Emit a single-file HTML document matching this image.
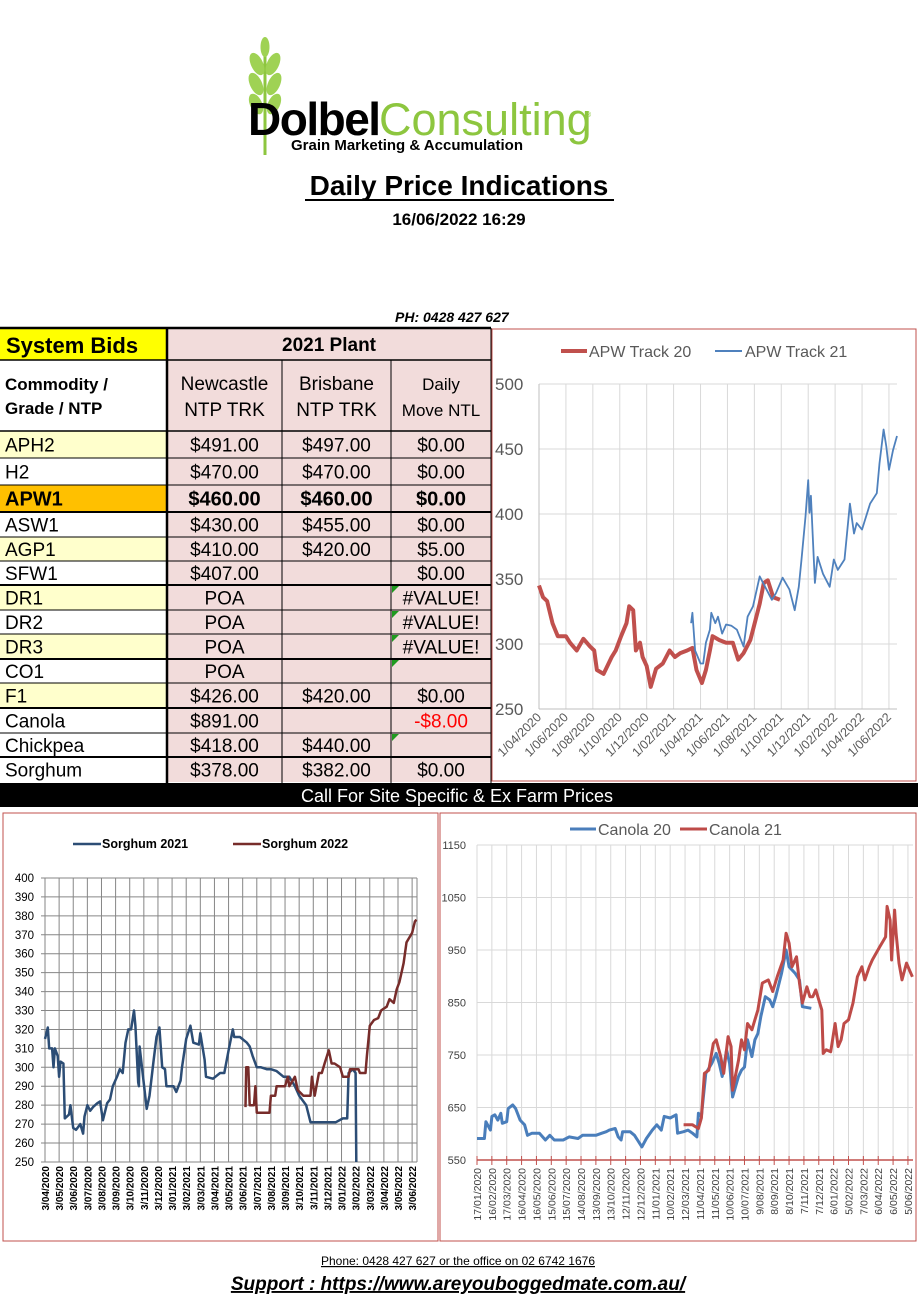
<!DOCTYPE html>
<html><head><meta charset="utf-8"><style>
html,body{margin:0;padding:0;background:#fff;width:918px;height:1299px;overflow:hidden}
svg{display:block;font-family:"Liberation Sans",Arial,sans-serif}
</style></head><body>
<svg id="pg" width="918" height="1299" viewBox="0 0 918 1299" xmlns="http://www.w3.org/2000/svg">
<!-- Logo -->
<g>
 <path d="M265 38 L265 155" stroke="#8dc63f" stroke-width="3" fill="none"/>
 <g fill="#9fd254">
  <ellipse cx="265" cy="47" rx="4.5" ry="10"/>
  <ellipse cx="257" cy="64" rx="6" ry="12" transform="rotate(-25 257 64)"/>
  <ellipse cx="273" cy="64" rx="6" ry="12" transform="rotate(25 273 64)"/>
  <ellipse cx="256" cy="84" rx="6" ry="12" transform="rotate(-25 256 84)"/>
  <ellipse cx="274" cy="84" rx="6" ry="12" transform="rotate(25 274 84)"/>
  <ellipse cx="256" cy="104" rx="6" ry="11" transform="rotate(-25 256 104)"/>
  <ellipse cx="274" cy="104" rx="6" ry="11" transform="rotate(25 274 104)"/>
 </g>
 <text x="248" y="135" font-size="46" font-weight="bold" fill="#000" letter-spacing="-1.5">Dolbel</text>
 <text x="379" y="135" font-size="45" fill="#8dc63f" letter-spacing="0">Consulting</text>
 <text x="586" y="117" font-size="7" fill="#8dc63f">®</text>
 <text x="291" y="150" font-size="15" font-weight="bold" fill="#000">Grain Marketing &amp; Accumulation</text>
</g>
<text x="459" y="195" font-size="28" font-weight="bold" text-anchor="middle">Daily Price Indications</text>
<line x1="305" y1="200" x2="614" y2="200" stroke="#000" stroke-width="2"/>
<text x="459" y="225" font-size="17" font-weight="bold" text-anchor="middle">16/06/2022 16:29</text>
<text x="395" y="322" font-size="14" font-weight="bold" font-style="italic">PH: 0428 427 627</text>
<g id="table"></g>
<rect x="0" y="783" width="918" height="24" fill="#000"/>
<text x="457" y="802" font-size="18" fill="#fff" text-anchor="middle">Call For Site Specific &amp; Ex Farm Prices</text>
<g id="apw"></g>
<g id="sor"></g>
<g id="can"></g>
<text x="458" y="1265" font-size="12" text-anchor="middle" text-decoration="underline">Phone: 0428 427 627 or the office on 02 6742 1676</text>
<text x="458" y="1290" font-size="19" font-weight="bold" font-style="italic" text-anchor="middle" text-decoration="underline">Support : https://www.areyouboggedmate.com.au/</text>
</svg>
<script>
// ---------- Table data ----------
const rowNames=["APH2","H2","APW1","ASW1","AGP1","SFW1","DR1","DR2","DR3","CO1","F1","Canola","Chickpea","Sorghum"];
const newcastle=["$491.00","$470.00","$460.00","$430.00","$410.00","$407.00","POA","POA","POA","POA","$426.00","$891.00","$418.00","$378.00"];
const brisbane=["$497.00","$470.00","$460.00","$455.00","$420.00","","","","","","$420.00","","$440.00","$382.00"];
const dailyMove=["$0.00","$0.00","$0.00","$0.00","$5.00","$0.00","#VALUE!","#VALUE!","#VALUE!","","$0.00","-$8.00","","$0.00"];

// ---------- APW chart data (x = months since Apr 2020) ----------
const apwTicks=["1/04/2020","1/06/2020","1/08/2020","1/10/2020","1/12/2020","1/02/2021","1/04/2021","1/06/2021","1/08/2021","1/10/2021","1/12/2021","1/02/2022","1/04/2022","1/06/2022"];
const apwYTicks=[250,300,350,400,450,500];
const apw20X=[0,0.3,0.6,1,1.4,2,2.3,2.8,3.3,3.8,4.1,4.3,4.8,5.4,5.7,6.1,6.5,6.7,7,7.2,7.5,7.7,8,8.3,8.7,9.2,9.7,10.1,10.5,11,11.4,11.7,12.1,12.4,12.7,12.9,13.4,13.9,14.4,14.8,15.2,15.7,15.9,16.4,16.7,17,17.4,17.9];
const apw20Y=[345,336,333,316,306,306,301,295,304,298,295,280,277,290,295,306,316,329,326,295,301,290,283,267,281,285,295,290,293,295,297,280,270,280,295,306,303,301,301,288,293,303,311,331,347,349,336,334];
const apw21X=[11.3,11.4,11.6,12,12.2,12.4,12.7,12.8,13.1,13.3,13.6,13.9,14.3,14.7,15.2,15.5,15.9,16.4,16.8,17.3,17.6,18.1,18.6,19,19.3,19.5,19.8,20,20.1,20.2,20.5,20.7,21.1,21.6,21.9,22.2,22.7,23.1,23.4,23.6,24,24.6,25.1,25.3,25.6,25.8,26,26.3,26.6];
const apw21Y=[316,324,295,285,285,301,311,324,316,321,308,315,314,311,298,321,329,352,344,334,339,351,342,326,344,365,398,426,401,414,347,367,354,344,365,357,365,408,385,393,388,408,416,439,465,452,434,449,460];

// ---------- Sorghum chart data (x = months since 3/04/2020) ----------
const sorTicks=["3/04/2020","3/05/2020","3/06/2020","3/07/2020","3/08/2020","3/09/2020","3/10/2020","3/11/2020","3/12/2020","3/01/2021","3/02/2021","3/03/2021","3/04/2021","3/05/2021","3/06/2021","3/07/2021","3/08/2021","3/09/2021","3/10/2021","3/11/2021","3/12/2021","3/01/2022","3/02/2022","3/03/2022","3/04/2022","3/05/2022","3/06/2022"];
const sorYTicks=[250,260,270,280,290,300,310,320,330,340,350,360,370,380,390,400];
const sor21X=[0,0.2,0.3,0.5,0.6,0.7,0.9,1,1.1,1.3,1.4,1.7,1.8,2,2.2,2.5,2.7,2.8,3,3.2,3.4,3.7,3.9,4.1,4.4,4.6,4.8,5.1,5.3,5.5,5.7,5.9,6.1,6.3,6.4,6.6,6.65,6.7,7.2,7.4,7.7,7.9,8.1,8.3,8.5,8.6,9.1,9.3,9.6,9.7,10,10.3,10.5,10.9,11,11.3,11.4,11.9,12.4,12.7,13,13.3,13.4,13.8,14.3,14.5,14.7,15,15.3,15.7,16,16.4,16.9,17.3,17.7,18,18.5,18.8,19.5,20.6,21.1,21.4,21.5,21.8,22,22.05];
const sor21Y=[315,321,310,310,300,310,306,295,303,302,273,275,280,268,267,270,265,274,280,277,279,281,282,272,281,283,290,295,299,297,313,320,320,330,322,292,290,311,278,285,304,316,321,300,299,290,290,287,293,300,315,322,313,312,318,304,295,294,297,297,309,320,316,316,313,311,306,300,300,299,299,298,295,295,290,285,280,271,271,271,273,273,297,299,297,250];
const sor22X=[14.2,14.25,14.4,14.5,14.8,14.9,15,15.9,16,16.3,16.4,17,17.2,17.3,17.7,17.9,18.3,18.8,18.9,19.1,19.4,19.6,19.8,20.1,20.3,20.5,20.9,21.1,21.5,21.6,22.2,22.3,22.7,22.8,23,23.3,23.6,23.8,24.2,24.4,24.7,24.9,25.1,25.4,25.6,26,26.2,26.3];
const sor22Y=[279,300,300,280,280,290,276,276,285,285,290,290,295,290,295,288,285,285,295,285,297,297,302,309,302,302,300,295,295,299,299,297,297,306,322,325,326,330,332,336,334,341,345,355,366,371,377,378];

// ---------- Canola chart data (x = tick index, ~30 days each) ----------
const canTicks=["17/01/2020","16/02/2020","17/03/2020","16/04/2020","16/05/2020","15/06/2020","15/07/2020","14/08/2020","13/09/2020","13/10/2020","12/11/2020","12/12/2020","11/01/2021","10/02/2021","12/03/2021","11/04/2021","11/05/2021","10/06/2021","10/07/2021","9/08/2021","8/09/2021","8/10/2021","7/11/2021","7/12/2021","6/01/2022","5/02/2022","7/03/2022","6/04/2022","6/05/2022","5/06/2022"];
const canYTicks=[550,650,750,850,950,1050,1150];
const can20X=[0,0.5,0.6,0.9,1,1.2,1.4,1.6,1.7,2,2.1,2.4,2.6,2.9,3.2,3.4,3.7,4.2,4.6,4.9,5.2,5.8,6.2,6.8,7.1,8,8.4,8.7,8.9,9.3,9.5,9.7,9.8,10.3,10.6,10.8,11.1,11.4,11.8,12.1,12.4,12.6,13,13.4,13.5,13.9,14.2,14.5,14.8,14.9,15.1,15.4,15.8,16.1,16.3,16.5,16.8,17,17.2,17.6,17.8,18,18.2,18.5,18.7,18.9,19.1,19.4,19.7,19.9,20.1,20.5,20.8,21,21.4,21.7,21.9,22.5];
const can20Y=[591,591,623,607,633,636,626,639,620,623,648,655,648,626,617,597,601,601,588,597,588,588,594,591,597,597,601,604,607,610,594,588,604,604,597,588,575,591,607,617,607,633,630,636,601,604,607,601,594,639,633,715,734,753,734,709,760,734,670,709,721,727,779,747,779,791,823,861,855,842,861,906,950,918,906,893,842,839];
const can21X=[13.9,14.5,14.9,15.1,15.3,15.6,15.9,16.1,16.4,16.6,16.9,17.1,17.2,17.6,17.8,18,18.2,18.5,18.7,18.9,19.2,19.6,19.9,20.2,20.6,20.8,21,21.2,21.5,21.7,21.9,22.2,22.4,22.6,22.8,23.2,23.3,23.5,23.8,24.1,24.3,24.5,24.7,25,25.3,25.6,25.9,26.1,26.4,26.6,27.1,27.5,27.6,27.8,27.9,28.1,28.2,28.4,28.6,28.9,29.1,29.3];
const can21Y=[617,617,610,630,715,721,772,779,747,715,785,766,683,740,779,760,810,798,817,836,887,893,871,899,931,982,963,918,937,887,849,880,861,861,874,836,753,760,756,810,766,779,810,817,849,899,918,893,918,931,956,975,1033,1007,931,1026,982,925,893,925,912,899];

const NS="http://www.w3.org/2000/svg";
function mk(parent,tag,attrs,txt){const e=document.createElementNS(NS,tag);for(const k in attrs)e.setAttribute(k,attrs[k]);if(txt!==undefined)e.textContent=txt;parent.appendChild(e);return e;}

// ---------- Table ----------
(function(){
 const g=document.getElementById('table');
 const cx=[0,167,282,391,491];
 const tops=[431,458,485,512,537,561,585,610,634,659,683,708,733,757,782];
 const nameBg={"APH2":"#ffffcc","AGP1":"#ffffcc","DR1":"#ffffcc","DR3":"#ffffcc","F1":"#ffffcc","APW1":"#ffc000"};
 mk(g,'rect',{x:0,y:328,width:167,height:32,fill:'#ffff00'});
 mk(g,'rect',{x:167,y:328,width:324,height:454,fill:'#f2dcdb'});
 let t=mk(g,'text',{x:6,y:353,'font-size':22,'font-weight':'bold'},'System Bids');
 
 
 t=mk(g,'text',{x:329,y:351,'font-size':19,'font-weight':'bold','text-anchor':'middle'},'2021 Plant');
 
 
 mk(g,'text',{x:5,y:390,'font-size':17,'font-weight':'bold'},'Commodity /');
 mk(g,'text',{x:5,y:414,'font-size':17,'font-weight':'bold'},'Grade / NTP');
 const hd=[["Newcastle","NTP TRK"],["Brisbane","NTP TRK"],["Daily","Move NTL"]];
 hd.forEach((h,i)=>{const m=(cx[i+1]+cx[i+2])/2;const fs=i==2?17:19;
  const a=mk(g,'text',{x:m,y:390,'font-size':fs,'text-anchor':'middle'},h[0]);
  
  
  mk(g,'text',{x:m,y:416,'font-size':fs,'text-anchor':'middle'},h[1]);});
 function tri(v,n){return v.startsWith('#')||n==="CO1"||n==="Chickpea";}
 rowNames.forEach((n,i)=>{
  const y0=tops[i],y1=tops[i+1],mid=(y0+y1)/2+7;
  const bold=n==="APW1";
  const bg=nameBg[n]||'#fff';
  mk(g,'rect',{x:0,y:y0,width:167,height:y1-y0,fill:bg});
  const c=mk(g,'text',{x:5,y:mid,'font-size':bold?20:19,'font-weight':bold?'bold':'normal'},n);
  
  
  [newcastle[i],brisbane[i],dailyMove[i]].forEach((v,j)=>{
   if(v==="")return;
   const e=mk(g,'text',{x:(cx[j+1]+cx[j+2])/2,y:mid,'font-size':bold?20:19,'font-weight':bold?'bold':'normal','text-anchor':'middle',fill:v.startsWith('-')?'#ff0000':'#000'},v);
   
   
  });
  if(tri(dailyMove[i],n)) mk(g,'path',{d:`M392 ${y0+1} l7 0 l-7 7z`,fill:'#1f9a1f'});
 });
 mk(g,'line',{x1:0,y1:328,x2:491,y2:328,stroke:'#000','stroke-width':2.5});
 mk(g,'line',{x1:0,y1:360,x2:491,y2:360,stroke:'#000','stroke-width':1.5});
 mk(g,'line',{x1:0,y1:431,x2:491,y2:431,stroke:'#000','stroke-width':1.5});
 const thick=[512,585,659,708,757];
 tops.slice(1,-1).forEach(y=>mk(g,'line',{x1:0,y1:y,x2:491,y2:y,stroke:'#000','stroke-width':thick.includes(y)?2:1}));
 mk(g,'line',{x1:167,y1:328,x2:167,y2:783,stroke:'#000','stroke-width':2.5});
 [282,391].forEach(x=>mk(g,'line',{x1:x,y1:360,x2:x,y2:783,stroke:'#000','stroke-width':1}));
 mk(g,'line',{x1:491,y1:328,x2:491,y2:783,stroke:'#000','stroke-width':1});
})();

function path(xs,ys,fx,fy){return xs.map((x,i)=>(i?'L':'M')+fx(x).toFixed(1)+' '+fy(ys[i]).toFixed(1)).join(' ');}

// ---------- APW chart ----------
(function(){
 const g=document.getElementById('apw');
 const xA=m=>539+m*13.46, yA=v=>384+(500-v)*1.3;
 mk(g,'rect',{x:492,y:329,width:424,height:452,fill:'#fff',stroke:'#c0504d','stroke-width':1});
 apwYTicks.forEach(v=>{mk(g,'line',{x1:539,x2:897,y1:yA(v),y2:yA(v),stroke:'#d9d9d9'});
  const t=mk(g,'text',{x:495,y:yA(v)+6,'font-size':17,fill:'#595959'},v);
  
  });
 apwTicks.forEach((s,i)=>{const x=xA(i*2);
  mk(g,'line',{x1:x,x2:x,y1:384,y2:709,stroke:'#d9d9d9'});
  const t=mk(g,'text',{x:x+3,y:718,'font-size':12.5,fill:'#595959','text-anchor':'end',transform:`rotate(-45 ${x+3} 718)`},s);
  
  });
 mk(g,'line',{x1:539,x2:539,y1:384,y2:709,stroke:'#bfbfbf'});
 mk(g,'line',{x1:539,x2:897,y1:709,y2:709,stroke:'#bfbfbf'});
 let p=mk(g,'path',{d:path(apw20X,apw20Y,xA,yA),fill:'none',stroke:'#c0504d','stroke-width':4,'stroke-linejoin':'round'});
 
 
 p=mk(g,'path',{d:path(apw21X,apw21Y,xA,yA),fill:'none',stroke:'#4f81bd','stroke-width':1.8,'stroke-linejoin':'round'});
 
 
 mk(g,'line',{x1:561,x2:587,y1:351,y2:351,stroke:'#c0504d','stroke-width':4});
 let l=mk(g,'text',{x:589,y:357,'font-size':16,fill:'#595959'},'APW Track 20');
 
 
 mk(g,'line',{x1:715,x2:742,y1:351,y2:351,stroke:'#4f81bd','stroke-width':2});
 l=mk(g,'text',{x:745,y:357,'font-size':16,fill:'#595959'},'APW Track 21');
 
 
})();

// ---------- Sorghum chart ----------
(function(){
 const g=document.getElementById('sor');
 const xS=m=>45+m*14.12, yS=v=>878+(400-v)*1.893;
 mk(g,'rect',{x:3,y:813,width:435,height:428,fill:'#fff',stroke:'#c0504d','stroke-width':1});
 sorYTicks.forEach(v=>{mk(g,'line',{x1:41,x2:417,y1:yS(v),y2:yS(v),stroke:'#868686'});
  const t=mk(g,'text',{x:34,y:yS(v)+4,'font-size':11.5,'text-anchor':'end'},v);
  
  });
 sorTicks.forEach((s,i)=>{const x=xS(i);
  mk(g,'line',{x1:x,x2:x,y1:878,y2:1162,stroke:'#868686'});
  const t=mk(g,'text',{x:x+4,y:1166,'font-size':10,'font-weight':'bold','text-anchor':'end',transform:`rotate(-90 ${x+4} 1166)`},s);
  
  });
 mk(g,'line',{x1:417,x2:417,y1:878,y2:1162,stroke:'#868686'});
 let p=mk(g,'path',{d:path(sor21X,sor21Y,xS,yS),fill:'none',stroke:'#2c4d75','stroke-width':2.5,'stroke-linejoin':'round'});
 
 
 p=mk(g,'path',{d:path(sor22X,sor22Y,xS,yS),fill:'none',stroke:'#772c2a','stroke-width':2.5,'stroke-linejoin':'round'});
 
 
 mk(g,'line',{x1:73,x2:101,y1:844,y2:844,stroke:'#2c4d75','stroke-width':2.5});
 let l=mk(g,'text',{x:102,y:848,'font-size':12.5,'font-weight':'bold'},'Sorghum 2021');
 
 
 mk(g,'line',{x1:233,x2:261,y1:844,y2:844,stroke:'#772c2a','stroke-width':2.5});
 l=mk(g,'text',{x:262,y:848,'font-size':12.5,'font-weight':'bold'},'Sorghum 2022');
 
 
})();

// ---------- Canola chart ----------
(function(){
 const g=document.getElementById('can');
 const xC=i=>477+i*14.86, yC=v=>845+(1150-v)*0.525;
 mk(g,'rect',{x:440,y:813,width:476,height:428,fill:'#fff',stroke:'#c0504d','stroke-width':1});
 canYTicks.forEach(v=>{mk(g,'line',{x1:477,x2:913,y1:yC(v),y2:yC(v),stroke:'#d9d9d9'});
  const t=mk(g,'text',{x:466,y:yC(v)+4,'font-size':11,fill:'#404040','text-anchor':'end'},v);
  
  });
 canTicks.forEach((s,i)=>{const x=xC(i);
  mk(g,'line',{x1:x,x2:x,y1:845,y2:1160,stroke:'#d9d9d9'});
  mk(g,'line',{x1:x,x2:x,y1:1156,y2:1165,stroke:'#c0504d'});
  const t=mk(g,'text',{x:x+4,y:1168,'font-size':10.5,fill:'#404040','text-anchor':'end',transform:`rotate(-90 ${x+4} 1168)`},s);
  
  });
 mk(g,'line',{x1:477,x2:913,y1:1160,y2:1160,stroke:'#c0504d','stroke-width':1.5});
 let p=mk(g,'path',{d:path(can20X,can20Y,xC,yC),fill:'none',stroke:'#4a7ebb','stroke-width':3,'stroke-linejoin':'round'});
 
 
 p=mk(g,'path',{d:path(can21X,can21Y,xC,yC),fill:'none',stroke:'#be4b48','stroke-width':3,'stroke-linejoin':'round'});
 
 
 mk(g,'line',{x1:570,x2:596,y1:829,y2:829,stroke:'#4a7ebb','stroke-width':3});
 let l=mk(g,'text',{x:598,y:835,'font-size':16,fill:'#595959'},'Canola 20');
 
 
 mk(g,'line',{x1:680,x2:707,y1:829,y2:829,stroke:'#be4b48','stroke-width':3});
 l=mk(g,'text',{x:709,y:835,'font-size':16,fill:'#595959'},'Canola 21');
 
 
})();
</script>
</body></html>
